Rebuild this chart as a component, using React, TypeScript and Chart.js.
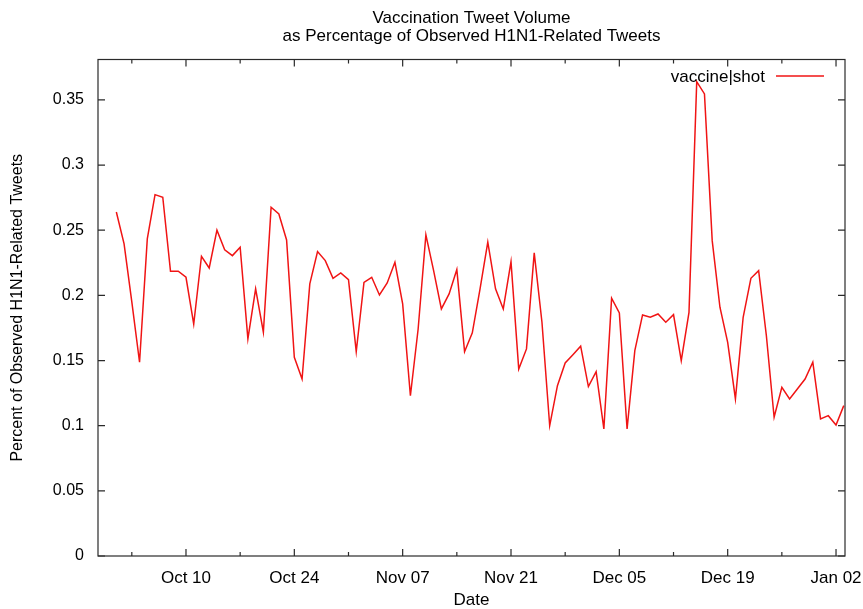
import React, { useEffect, useRef } from "react";
import { Chart, registerables } from "chart.js";

Chart.register(...registerables);

// Daily share of vaccine-related tweets, starting 2009-10-01 (day 0)
const seriesLabel = "vaccine|shot";
const dailyShare = [
  0.264, 0.2395, 0.195, 0.1487, 0.2433, 0.2773, 0.2753, 0.2185, 0.2185, 0.2139,
  0.178, 0.23, 0.221, 0.25, 0.235, 0.2305, 0.2369, 0.1666, 0.205, 0.1717,
  0.2676, 0.2625, 0.2425, 0.1525, 0.1358, 0.2088, 0.2336, 0.2267, 0.2131, 0.2172,
  0.2121, 0.1568, 0.21, 0.2139, 0.2003, 0.2095, 0.2254, 0.1934, 0.123, 0.1742,
  0.2464, 0.219, 0.1896, 0.2011, 0.2198, 0.1568, 0.1712, 0.205, 0.2408, 0.205,
  0.1896, 0.2259, 0.1435, 0.1589, 0.2326, 0.1794, 0.1, 0.1307, 0.1481, 0.1545,
  0.161, 0.13, 0.1415, 0.0975, 0.1978, 0.1865, 0.0975, 0.1576, 0.185, 0.1832,
  0.1857, 0.1794, 0.1852, 0.1499, 0.187, 0.364, 0.3546, 0.242, 0.1909, 0.164,
  0.1205, 0.1832, 0.2131, 0.219, 0.169, 0.1065, 0.1295, 0.1205, 0.1282, 0.1358,
  0.1487, 0.1052, 0.1077, 0.1005, 0.1154,
];

// Labelled x ticks (days since Oct 01) and unlabelled weekly ticks between them
const majorTickDays = [9, 23, 37, 51, 65, 79, 93];
const majorTickLabels = ["Oct 10", "Oct 24", "Nov 07", "Nov 21", "Dec 05", "Dec 19", "Jan 02"];
const minorTickDays = [2, 16, 30, 44, 58, 72, 86];
const yTickValues = [0, 0.05, 0.1, 0.15, 0.2, 0.25, 0.3, 0.35];

const titleLines = ["Vaccination Tweet Volume", "as Percentage of Observed H1N1-Related Tweets"];
const xTitle = "Date";
const yTitle = "Percent of Observed H1N1-Related Tweets";

const FONT = '"Liberation Sans", Arial, sans-serif';
const LINE_COLOR = "#f01414";
const FRAME_COLOR = "#2a2a2a";

const framePlugin = {
  id: "gnuplotFrame",
  afterDraw(chart: any) {
    const { ctx, chartArea: a, scales } = chart;
    const xs = scales.x;
    const ys = scales.y;
    ctx.save();
    ctx.strokeStyle = FRAME_COLOR;
    ctx.lineWidth = 1.2;
    ctx.strokeRect(a.left, a.top, a.right - a.left, a.bottom - a.top);

    const major = 7;
    const minor = 4;
    ctx.beginPath();
    for (const d of majorTickDays) {
      const px = xs.getPixelForValue(d);
      ctx.moveTo(px, a.bottom);
      ctx.lineTo(px, a.bottom - major);
      ctx.moveTo(px, a.top);
      ctx.lineTo(px, a.top + major);
    }
    for (const d of minorTickDays) {
      const px = xs.getPixelForValue(d);
      ctx.moveTo(px, a.bottom);
      ctx.lineTo(px, a.bottom - minor);
      ctx.moveTo(px, a.top);
      ctx.lineTo(px, a.top + minor);
    }
    for (const v of yTickValues) {
      const py = ys.getPixelForValue(v);
      ctx.moveTo(a.left, py);
      ctx.lineTo(a.left + major, py);
      ctx.moveTo(a.right, py);
      ctx.lineTo(a.right - major, py);
    }
    ctx.stroke();

    ctx.fillStyle = "#000";
    ctx.textAlign = "center";
    ctx.textBaseline = "middle";
    const cx = (a.left + a.right) / 2;
    ctx.font = `17px ${FONT}`;
    ctx.fillText(titleLines[0], cx, 18);
    ctx.fillText(titleLines[1], cx, 36);
    ctx.fillText(xTitle, cx, 600);

    ctx.save();
    ctx.font = `16px ${FONT}`;
    ctx.translate(18, (a.top + a.bottom) / 2);
    ctx.rotate(-Math.PI / 2);
    ctx.fillText(yTitle, 0, 0);
    ctx.restore();

    // key in the upper right corner
    ctx.font = `17px ${FONT}`;
    ctx.textAlign = "right";
    ctx.fillText(seriesLabel, 765, 77);
    ctx.strokeStyle = LINE_COLOR;
    ctx.lineWidth = 1.5;
    ctx.beginPath();
    ctx.moveTo(776, 76);
    ctx.lineTo(824, 76);
    ctx.stroke();
    ctx.restore();
  },
};

export default function App() {
  const ref = useRef<HTMLCanvasElement>(null);

  useEffect(() => {
    if (!ref.current) return;
    const chart = new Chart(ref.current, {
      type: "line",
      data: {
        datasets: [
          {
            label: seriesLabel,
            data: dailyShare.map((v, i) => ({ x: i, y: v })),
            borderColor: LINE_COLOR,
            borderWidth: 1.5,
            pointRadius: 0,
            tension: 0,
            fill: false,
          },
        ],
      },
      options: {
        animation: false,
        responsive: false,
        devicePixelRatio: 1,
        layout: { padding: { left: 0, top: 59.5, right: 18, bottom: 0 } },
        plugins: { legend: { display: false }, title: { display: false }, tooltip: { enabled: false } },
        scales: {
          x: {
            type: "linear",
            min: -2.37,
            max: 94.16,
            grid: { display: false, drawTicks: false },
            border: { display: false },
            afterFit: (s: any) => {
              s.height = 53;
              s.paddingLeft = 0;
              s.paddingRight = 0;
            },
            afterBuildTicks: (s: any) => {
              s.ticks = [...majorTickDays, ...minorTickDays]
                .sort((p, q) => p - q)
                .map((value) => ({ value }));
            },
            ticks: {
              autoSkip: false,
              maxRotation: 0,
              padding: 12,
              color: "#000",
              font: { family: FONT, size: 17 },
              callback: (v: any) => {
                const i = majorTickDays.indexOf(Number(v));
                return i >= 0 ? majorTickLabels[i] : "";
              },
            },
          },
          y: {
            type: "linear",
            min: 0,
            max: 0.381,
            grid: { display: false, drawTicks: false },
            border: { display: false },
            afterFit: (s: any) => {
              s.width = 98;
              s.paddingTop = 0;
              s.paddingBottom = 0;
            },
            afterBuildTicks: (s: any) => {
              s.ticks = yTickValues.map((value) => ({ value }));
            },
            ticks: {
              padding: 14,
              color: "#000",
              font: { family: FONT, size: 16 },
              callback: (v: any) => String(parseFloat(Number(v).toFixed(2))),
            },
          },
        },
      },
      plugins: [framePlugin],
    });
    return () => chart.destroy();
  }, []);

  return (
    <div style={{ position: "absolute", left: 0, top: 0, width: 863, height: 609, background: "#fff" }}>
      <canvas ref={ref} width={863} height={609} style={{ width: 863, height: 609 }} />
    </div>
  );
}
